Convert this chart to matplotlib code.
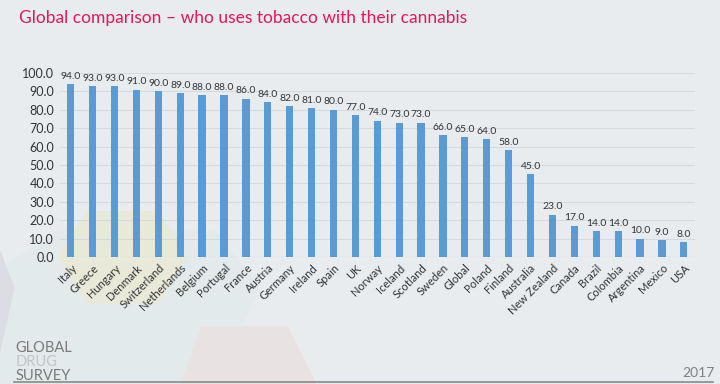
import matplotlib
matplotlib.use("Agg")
import matplotlib.pyplot as plt
from matplotlib.patches import Polygon

countries = ["Italy", "Greece", "Hungary", "Denmark", "Switzerland", "Netherlands",
             "Belgium", "Portugal", "France", "Austria", "Germany", "Ireland", "Spain",
             "UK", "Norway", "Iceland", "Scotland", "Sweden", "Global", "Poland",
             "Finland", "Australia", "New Zealand", "Canada", "Brazil", "Colombia",
             "Argentina", "Mexico", "USA"]
values = [94.0, 93.0, 93.0, 91.0, 90.0, 89.0, 88.0, 88.0, 86.0, 84.0, 82.0, 81.0, 80.0,
          77.0, 74.0, 73.0, 73.0, 66.0, 65.0, 64.0, 58.0, 45.0, 23.0, 17.0, 14.0, 14.0,
          10.0, 9.0, 8.0]
yticks = [0, 10, 20, 30, 40, 50, 60, 70, 80, 90, 100]

plt.rcParams['font.family'] = ['Lato', 'DejaVu Sans']
bg = "#e8ecef"
fig = plt.figure(figsize=(7.2, 3.84), dpi=100, facecolor=bg)

# faint decorative shapes bottom-left (behind everything)
deco = [
    ([(0.0, 0.0), (0.0, 0.30), (0.08, 0.40), (0.30, 0.40), (0.36, 0.25), (0.30, 0.0)], "#e2eaeb"),
    ([(0.08, 0.33), (0.12, 0.45), (0.22, 0.45), (0.26, 0.33), (0.22, 0.21), (0.12, 0.21)], "#e9e9d9"),
    ([(0.25, 0.0), (0.28, 0.15), (0.40, 0.15), (0.44, 0.0)], "#e9e2e3"),
    ([(0.0, 0.08), (0.0, 0.35), (0.02, 0.25)], "#dcdce4"),
]
for pts, c in deco:
    fig.patches.append(Polygon(pts, closed=True, transform=fig.transFigure,
                               facecolor=c, edgecolor="none", zorder=-5))

ax = fig.add_axes([0.083, 0.331, 0.882, 0.479])
ax.set_facecolor("none")
ax.set_zorder(5)
x = range(len(countries))
ax.bar(x, values, width=0.33, color="#5b9bd5", zorder=3)
for xi, v in zip(x, values):
    ax.text(xi, v + 1.8, f"{v:.1f}", ha="center", va="bottom", fontsize=7.5, color="#333333")

ax.set_xlim(-0.5, len(countries) - 0.5)
ax.set_ylim(0, 100)
ax.set_yticks(yticks)
ax.set_yticklabels([f"{t:.1f}" for t in yticks], fontsize=9, color="#333333")
ax.set_xticks(list(x))
ax.set_xticklabels(countries, rotation=45, ha="right", rotation_mode="anchor",
                   fontsize=8, color="#333333")
ax.tick_params(axis="both", length=0, pad=4)
ax.grid(axis="y", color="#d6dadd", linewidth=0.8, zorder=0)
for s in ax.spines.values():
    s.set_visible(False)
ax.axhline(0, color="#d0d4d8", linewidth=0.8, zorder=2)

fig.text(0.027, 0.953, "Global comparison \u2013 who uses tobacco with their cannabis",
         fontsize=12.5, color="#e4175b", ha="left", va="center")

# logo
fig.text(0.022, 0.094, "GLOBAL", fontsize=10.5, color="#7a7a7a", ha="left", va="center")
fig.text(0.022, 0.058, "DRUG", fontsize=10.5, color="#c4c4c4", ha="left", va="center")
fig.text(0.022, 0.022, "SURVEY", fontsize=10.5, color="#7a7a7a", ha="left", va="center")
fig.text(0.993, 0.028, "2017", fontsize=10, color="#808080", ha="right", va="center")
fig.add_artist(plt.Line2D([0.02, 0.99], [0.004, 0.004], transform=fig.transFigure,
                          color="#8a8a8a", linewidth=1.2))

fig.savefig("out.png", dpi=100, facecolor=bg)
